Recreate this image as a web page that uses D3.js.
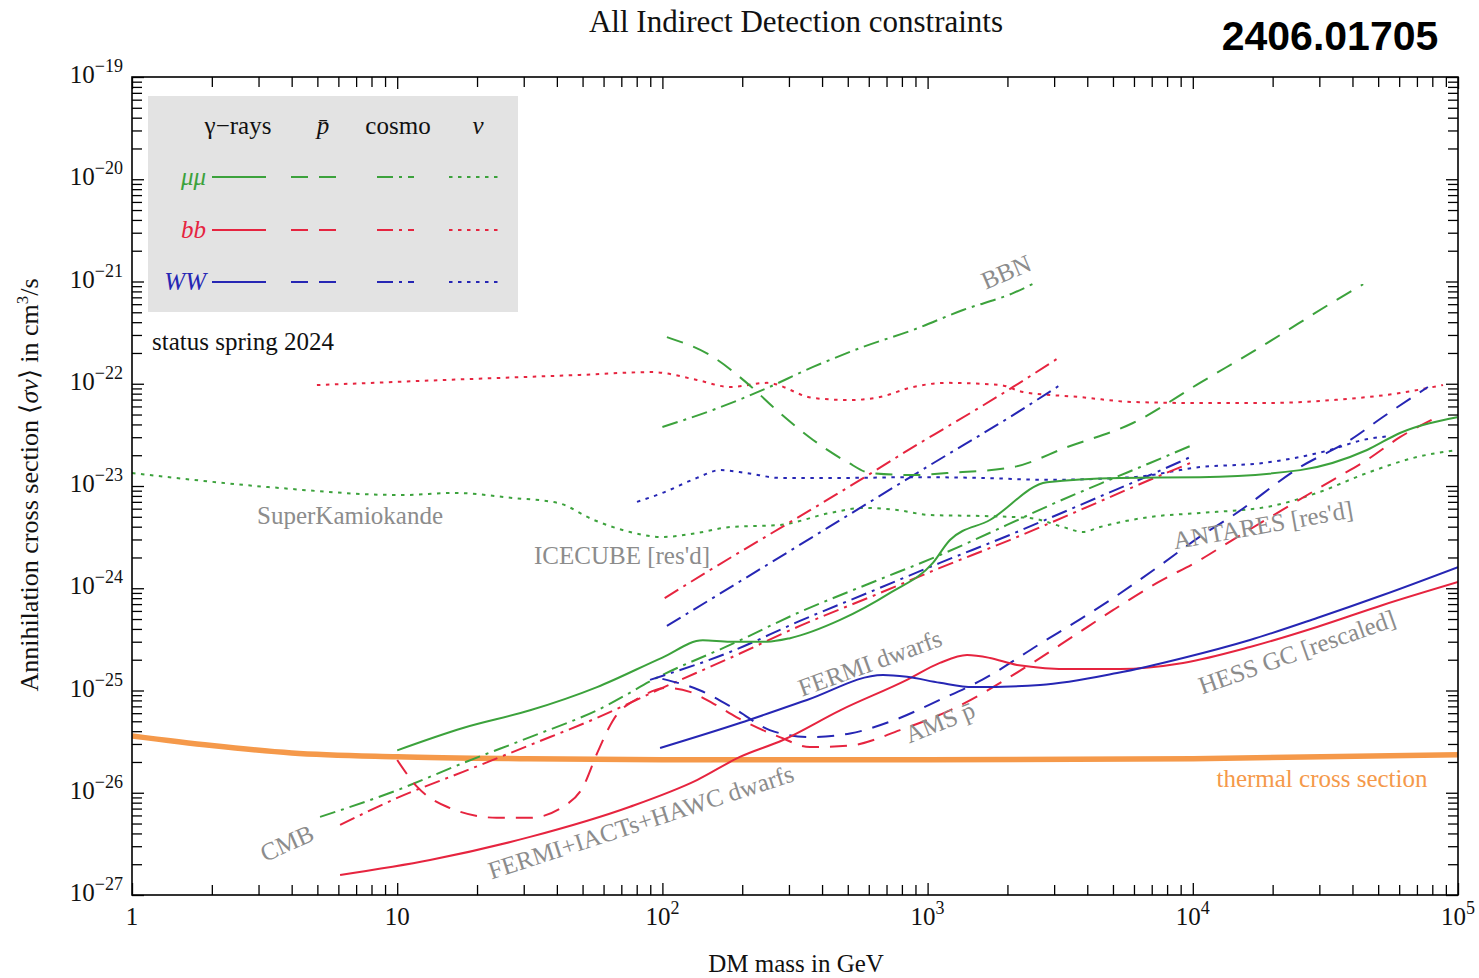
<!DOCTYPE html>
<html><head><meta charset="utf-8">
<script src="https://cdn.jsdelivr.net/npm/d3@7"></script>
<style>
body{margin:0;background:#fff}
svg text{font-family:"Liberation Serif","Times New Roman",serif}
</style>
</head><body>
<svg id="chart" width="1479" height="978"></svg>
<script>
// ---------- data (mass in GeV, <sigma v> in cm^3/s) ----------
const xMajorTicks = [1, 10, 100, 1000, 10000, 100000];
const xTickLabels = [["1",""],["10",""],["10","2"],["10","3"],["10","4"],["10","5"]];
const yMajorTicks = [1e-27,1e-26,1e-25,1e-24,1e-23,1e-22,1e-21,1e-20,1e-19];
const yTickLabels = ["\u221227","\u221226","\u221225","\u221224","\u221223","\u221222","\u221221","\u221220","\u221219"];

const thermal = [[1,3.6e-26],[2,2.9e-26],[4,2.45e-26],[10,2.25e-26],[30,2.15e-26],[100,2.1e-26],[1000,2.1e-26],[10000,2.15e-26],[100000,2.35e-26]];

const gammaMuMu = [[10,2.6e-26],[17.7,4.3e-26],[31.7,6.4e-26],[56.7,1.08e-25],[100,2.1e-25],[142,3.1e-25],[180,3.0e-25],[248,3.0e-25],[303,3.25e-25],[468,4.9e-25],[722,9.0e-25],[1047,1.77e-24],[1214,2.96e-24],[1718,4.65e-24],[2820,1.09e-23],[5310,1.2e-23],[10640,1.22e-23],[25400,1.43e-23],[45400,2.25e-23],[60400,3.3e-23],[99200,4.7e-23]];
const gammaBB = [[6.09,1.57e-27],[13.3,2.2e-27],[31.7,3.7e-27],[75.5,7.3e-27],[135,1.33e-26],[196,2.24e-26],[285,3.28e-26],[468,6.4e-26],[836,1.27e-25],[1113,1.86e-25],[1408,2.22e-25],[1720,2.08e-25],[2173,1.78e-25],[3535,1.62e-25],[5313,1.62e-25],[9190,1.86e-25],[16430,2.66e-25],[29400,4.18e-25],[52100,6.86e-25],[100000,1.15e-24]];
const gammaWW = [[98,2.74e-26],[196,4.81e-26],[351,8.07e-26],[679,1.42e-25],[836,1.36e-25],[1113,1.19e-25],[1483,1.08e-25],[2654,1.13e-25],[5180,1.48e-25],[9190,2.08e-25],[16430,3.12e-25],[29400,5.12e-25],[52100,8.59e-25],[100000,1.61e-24]];

const pbarMuMu = [[104,2.86e-22],[155,1.83e-22],[208,1.02e-22],[277,5.18e-23],[370,2.82e-23],[497,1.72e-23],[607,1.34e-23],[881,1.28e-23],[1183,1.34e-23],[2100,1.53e-23],[3354,2.4e-23],[5945,4.13e-23],[10640,1.02e-22],[19050,2.5e-22],[33800,6.3e-22],[43900,9.4e-22]];
const pbarBB = [[10,2.09e-26],[11.9,1.14e-26],[15.4,7.3e-27],[23.7,5.7e-27],[31.7,5.7e-27],[42.2,7.3e-27],[50.2,1.14e-26],[56.8,2.45e-26],[65.1,5.1e-26],[82.6,8.6e-26],[104,1.06e-25],[127,9.7e-26],[155,7.5e-26],[190,5.5e-26],[277,3.5e-26],[360,2.8e-26],[510,2.9e-26],[787,4.1e-26],[1213,6.4e-26],[2420,1.78e-25],[3600,3.49e-25],[5000,6.1e-25],[7300,1.12e-24],[10640,1.89e-24],[14100,2.96e-24],[33800,1.15e-23],[45400,1.8e-23],[60400,3.0e-23],[86000,4.9e-23]];
const pbarWW = [[100,1.3e-25],[139,1.0e-25],[191,6.4e-26],[254,4.1e-26],[360,3.5e-26],[510,3.8e-26],[744,5.1e-26],[1113,8.1e-26],[1603,1.27e-25],[2723,2.98e-25],[3820,5.1e-25],[5000,8.0e-25],[7470,1.65e-24],[10640,3.2e-24],[14100,5.1e-24],[25400,1.53e-23],[39200,2.82e-23],[52100,4.73e-23],[77000,9.3e-23]];

const cmbMuMu = [[5.12,5.8e-27],[10,1.06e-26],[17.7,1.95e-26],[31.7,3.5e-26],[56.7,6.4e-26],[100,1.42e-25],[180,2.79e-25],[330,5.86e-25],[607,1.12e-24],[1113,2.11e-24],[1992,4.16e-24],[2896,6.5e-24],[4467,1.05e-23],[6900,1.68e-23],[10000,2.52e-23]];
const cmbBB = [[6.09,4.84e-27],[10,8.9e-27],[17.7,1.6e-26],[31.7,2.93e-26],[56.7,5.4e-26],[100,1.06e-25],[180,2.08e-25],[330,4.28e-25],[607,8.2e-25],[1113,1.58e-24],[2040,2.96e-24],[3750,5.8e-24],[6900,1.15e-23],[9800,1.68e-23]];
const cmbWW = [[89.8,1.27e-25],[180,2.38e-25],[330,4.79e-25],[607,9.2e-25],[1113,1.77e-24],[2040,3.32e-24],[3750,6.5e-24],[6900,1.28e-23],[9800,1.92e-23]];

const bbnMuMu = [[100,3.78e-23],[155,5.54e-23],[239,8.7e-23],[370,1.46e-22],[571,2.29e-22],[881,3.36e-22],[1360,5.26e-22],[2100,7.7e-22],[2582,9.9e-22]];
const bbnBB = [[102,8.0e-25],[147,1.44e-24],[295,4.25e-24],[418,7.3e-24],[623,1.37e-23],[881,2.4e-23],[1183,3.78e-23],[1578,5.9e-23],[2100,9.3e-23],[3157,1.83e-22]];
const bbnWW = [[104,4.28e-25],[227,1.47e-24],[497,5.1e-24],[1021,1.6e-23],[2100,4.94e-23],[3157,9.7e-23]];

const nuMuMu = [[1,1.34e-23],[3.26,9.77e-24],[10.4,8.16e-24],[16.5,8.55e-24],[27.3,7.64e-24],[40.4,6.82e-24],[55.2,4.65e-24],[75.5,3.55e-24],[100,3.17e-24],[135,3.47e-24],[180,3.97e-24],[277,4.16e-24],[429,5.45e-24],[571,6.1e-24],[767,5.82e-24],[1021,5.2e-24],[1578,5.09e-24],[2432,4.86e-24],[3243,3.97e-24],[3854,3.55e-24],[4467,3.97e-24],[6900,4.98e-24],[10640,5.45e-24],[19050,6.24e-24],[29400,8.55e-24],[45400,1.34e-23],[70000,1.92e-23],[99200,2.25e-23]];
const nuBB = [[4.98,9.7e-23],[15.3,1.09e-22],[48.9,1.22e-22],[91.4,1.3e-22],[135,1.09e-22],[180,9.3e-23],[248,1.02e-22],[370,7.26e-23],[510,6.93e-23],[661,7.41e-23],[881,9.3e-23],[1183,1.02e-22],[1875,9.73e-23],[2290,8.3e-23],[3758,7.41e-23],[5945,6.63e-23],[10640,6.48e-23],[19050,6.48e-23],[33800,6.93e-23],[60400,8.12e-23],[87800,9.73e-23]];
const nuWW = [[80.2,7.0e-24],[100,8.55e-24],[135,1.2e-23],[165,1.43e-23],[208,1.34e-23],[277,1.2e-23],[497,1.2e-23],[881,1.22e-23],[1578,1.2e-23],[2820,1.15e-23],[5945,1.22e-23],[10640,1.53e-23],[18400,1.68e-23],[32900,2.25e-23],[43800,2.82e-23],[55400,3.08e-23]];

// plot labels: text, anchor mass, anchor sigma, rotation (deg)
const plotLabels = [
  ["SuperKamiokande", 6.64, 5.2e-24, 0],
  ["ICECUBE [res'd]", 70.4, 2.07e-24, 0],
  ["ANTARES [res'd]", 18400, 4.16e-24, -10],
  ["CMB", 3.84, 3.22e-27, -24],
  ["FERMI+IACTs+HAWC dwarfs", 83, 5.17e-27, -18],
  ["FERMI dwarfs", 606, 1.86e-25, -20],
  ["AMS p\u0304", 1113, 4.92e-26, -22],
  ["HESS GC [rescaled]", 24700, 2.38e-25, -19.5],
  ["BBN", 1977, 1.24e-21, -23]
];
const thermalLabel = ["thermal cross section", 30700, 1.39e-26];

// ---------- styles ----------
const COL = {mu:"#3ca23c", bb:"#e6243f", ww:"#2626b4", th:"#f5994a", lab:"#8c8c8c"};
const DASH = {solid:null, dashed:"17,11", dashdot:"16,6,3,6", dotted:"3.5,5.5"};

const series = [
  [nuMuMu,"mu","dotted"],[nuBB,"bb","dotted"],[nuWW,"ww","dotted"],
  [bbnMuMu,"mu","dashdot"],[bbnBB,"bb","dashdot"],[bbnWW,"ww","dashdot"],
  [cmbMuMu,"mu","dashdot"],[cmbBB,"bb","dashdot"],[cmbWW,"ww","dashdot"],
  [pbarMuMu,"mu","dashed"],[pbarBB,"bb","dashed"],[pbarWW,"ww","dashed"],
  [gammaMuMu,"mu","solid"],[gammaBB,"bb","solid"],[gammaWW,"ww","solid"]
];

// ---------- chart ----------
const M = {l:132, r:1458, t:77, b:895};
const svg = d3.select("#chart");
const x = d3.scaleLog().domain([1,1e5]).range([M.l,M.r]);
const y = d3.scaleLog().domain([1e-27,1e-19]).range([M.b,M.t]);

svg.append("defs").append("clipPath").attr("id","clip")
  .append("rect").attr("x",M.l).attr("y",M.t).attr("width",M.r-M.l).attr("height",M.b-M.t);

const line = d3.line().x(d=>x(d[0])).y(d=>y(d[1])).curve(d3.curveMonotoneX);
const plot = svg.append("g").attr("clip-path","url(#clip)");

// thermal band
plot.append("path").datum(thermal).attr("d",line)
  .attr("fill","none").attr("stroke",COL.th).attr("stroke-width",5.5);

series.forEach(([data,c,st])=>{
  plot.append("path").datum(data).attr("d",line)
    .attr("fill","none").attr("stroke",COL[c]).attr("stroke-width",2)
    .attr("stroke-dasharray",DASH[st]);
});

// ticks
const xMinor=[], yMinor=[];
for(let d=1; d<1e5; d*=10) for(let k=2;k<10;k++) xMinor.push(d*k);
for(let e=-27; e<-19; e++) for(let k=2;k<10;k++) yMinor.push(k*Math.pow(10,e));

function axisG(gen, tr){ const g=svg.append("g").attr("transform",tr).call(gen); g.select(".domain").remove(); g.selectAll("line").attr("stroke","#000").attr("stroke-width",1.3); return g; }
axisG(d3.axisBottom(x).tickValues(xMajorTicks).tickSize(-12).tickFormat(""), `translate(0,${M.b})`);
axisG(d3.axisBottom(x).tickValues(xMinor).tickSize(-10).tickFormat(""), `translate(0,${M.b})`);
axisG(d3.axisTop(x).tickValues(xMajorTicks).tickSize(-12).tickFormat(""), `translate(0,${M.t})`);
axisG(d3.axisTop(x).tickValues(xMinor).tickSize(-10).tickFormat(""), `translate(0,${M.t})`);
axisG(d3.axisLeft(y).tickValues(yMajorTicks).tickSize(-12).tickFormat(""), `translate(${M.l},0)`);
axisG(d3.axisLeft(y).tickValues(yMinor).tickSize(-10).tickFormat(""), `translate(${M.l},0)`);
axisG(d3.axisRight(y).tickValues(yMajorTicks).tickSize(-12).tickFormat(""), `translate(${M.r},0)`);
axisG(d3.axisRight(y).tickValues(yMinor).tickSize(-10).tickFormat(""), `translate(${M.r},0)`);

svg.append("rect").attr("x",M.l).attr("y",M.t).attr("width",M.r-M.l).attr("height",M.b-M.t)
  .attr("fill","none").attr("stroke","#000").attr("stroke-width",1.6);

// tick labels
xMajorTicks.forEach((v,i)=>{
  const t = svg.append("text").attr("x",x(v)).attr("y",M.b+30).attr("text-anchor","middle")
    .attr("font-size",25).attr("fill","#111");
  t.append("tspan").text(xTickLabels[i][0]);
  if(xTickLabels[i][1]) t.append("tspan").attr("dy",-11).attr("font-size",18).text(xTickLabels[i][1]);
});
yMajorTicks.forEach((v,i)=>{
  const t = svg.append("text").attr("x",M.l-9).attr("y",y(v)+6).attr("text-anchor","end")
    .attr("font-size",25).attr("fill","#111");
  t.append("tspan").text("10");
  t.append("tspan").attr("dy",-11).attr("font-size",18).text(yTickLabels[i]);
});

// axis titles
svg.append("text").attr("x",796).attr("y",972).attr("text-anchor","middle").attr("font-size",25).attr("fill","#111").text("DM mass in GeV");
const yl = svg.append("text").attr("transform","translate(38,485) rotate(-90)").attr("text-anchor","middle").attr("font-size",26).attr("fill","#111");
yl.append("tspan").text("Annihilation cross section \u27E8");
yl.append("tspan").attr("font-style","italic").text("\u03C3v");
yl.append("tspan").text("\u27E9 in cm");
yl.append("tspan").attr("dy",-10).attr("font-size",17).text("3");
yl.append("tspan").attr("dy",10).text("/s");

// title + id
svg.append("text").attr("x",796).attr("y",32).attr("text-anchor","middle").attr("font-size",31).attr("fill","#111").text("All Indirect Detection constraints");
svg.append("text").attr("x",1330).attr("y",50).attr("text-anchor","middle").attr("font-size",41)
  .attr("font-weight","bold").style("font-family","'Liberation Sans',Arial,sans-serif").attr("fill","#000").text("2406.01705");

// plot labels
plotLabels.forEach(([txt,m,s,rot])=>{
  svg.append("text").attr("transform",`translate(${x(m)},${y(s)}) rotate(${rot})`)
    .attr("text-anchor","middle").attr("dominant-baseline","central")
    .attr("font-size",25).attr("fill",COL.lab).text(txt);
});
svg.append("text").attr("x",x(thermalLabel[1])).attr("y",y(thermalLabel[2])).attr("text-anchor","middle")
  .attr("dominant-baseline","central").attr("font-size",25).attr("fill",COL.th).text(thermalLabel[0]);

// legend
const lg = svg.append("g");
lg.append("rect").attr("x",148).attr("y",96).attr("width",370).attr("height",216).attr("fill","#e3e3e3");
const hdrY = 134;
const hdr = [["\u03B3\u2212rays",238,false],["p\u0304",323,true],["cosmo",398,false],["\u03BD",478,true]];
hdr.forEach(([t,cx,it])=>lg.append("text").attr("x",cx).attr("y",hdrY).attr("text-anchor","middle")
  .attr("font-size",25).attr("font-style",it?"italic":"normal").attr("fill","#111").text(t));
const rows = [["\u03BC\u03BC","mu",177],["bb","bb",230],["WW","ww",282]];
const samples = [["solid",212,266],["dashed",291,346],["dashdot",377,414],["dotted",449,499]];
rows.forEach(([lab,c,ry])=>{
  lg.append("text").attr("x",206).attr("y",ry+8).attr("text-anchor","end").attr("font-size",25)
    .attr("font-style","italic").attr("fill",COL[c]).text(lab);
  samples.forEach(([st,x0,x1])=>{
    lg.append("line").attr("x1",x0).attr("x2",x1).attr("y1",ry).attr("y2",ry)
      .attr("stroke",COL[c]).attr("stroke-width",2).attr("stroke-dasharray",DASH[st]);
  });
});
svg.append("text").attr("x",152).attr("y",350).attr("font-size",25).attr("fill","#111").text("status spring 2024");
</script>
</body></html>
